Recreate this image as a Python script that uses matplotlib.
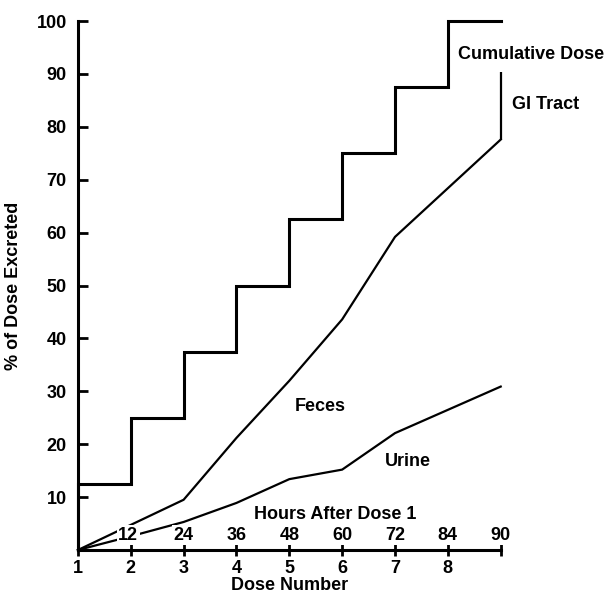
import matplotlib.pyplot as plt

plt.rcParams['font.family'] = ['Liberation Sans', 'DejaVu Sans']
plt.rcParams['font.weight'] = 'bold'

# cumulative dose given (step after each dose)
dose_edges = [1, 1, 2, 3, 4, 5, 6, 7, 8, 9]
cum_dose = [0, 12.5, 25, 37.5, 50, 62.5, 75, 87.5, 100, 100]

feces_x = [1, 3, 4, 5, 6, 7, 8, 9]
feces_y = [0, 9.5, 21.2, 32.0, 43.6, 59.2, 68.4, 77.6]

urine_x = [1, 2, 3, 4, 5, 6, 7, 8, 9]
urine_y = [0, 2.6, 5.3, 8.9, 13.4, 15.2, 22.1, 26.5, 30.9]

gi_x = 9
gi_range = (77.6, 90.3)

dose_ticks = [1, 2, 3, 4, 5, 6, 7, 8]
hour_pos = [2, 3, 4, 5, 6, 7, 8, 9]
hour_labels = ['12', '24', '36', '48', '60', '72', '84', '90']
y_ticks = [10, 20, 30, 40, 50, 60, 70, 80, 90, 100]

fs = 13

fig = plt.figure(figsize=(6.04, 5.95), dpi=100)
ax = fig.add_axes([0.129, 0.0756, 0.700, 0.889])
ax.set(xlim=(1, 9), ylim=(0, 100))

lw_curve = 1.6
ax.step(dose_edges, cum_dose, where='post', color='black', lw=2.2,
        clip_on=False, solid_joinstyle='miter')
ax.plot(feces_x, feces_y, color='black', lw=lw_curve, clip_on=False)
ax.plot(urine_x, urine_y, color='black', lw=lw_curve, clip_on=False)
ax.vlines(gi_x, *gi_range, color='black', lw=lw_curve, clip_on=False)

for side in ('top', 'right'):
    ax.spines[side].set_visible(False)
for side in ('left', 'bottom'):
    ax.spines[side].set_linewidth(2.2)

ax.set_yticks(y_ticks)
ax.set_xticks(dose_ticks + [9])
ax.set_xticklabels([str(d) for d in dose_ticks] + [''])
ax.tick_params(axis='y', direction='in', length=7, width=2, labelsize=fs,
               pad=8)
ax.tick_params(axis='x', direction='inout', length=9, width=2, labelsize=fs,
               pad=3)

ax.set_xlabel('Dose Number', fontsize=fs, fontweight='bold', labelpad=0)
ax.set_ylabel('% of Dose Excreted', fontsize=fs, fontweight='bold')
ax.yaxis.set_label_coords(-0.132, 0.5)

for pos, lab in zip(hour_pos, hour_labels):
    ax.text(pos - 0.05 if pos == 2 else pos, 2.8, lab, ha='center',
            va='center', fontsize=fs, fontweight='bold', zorder=5,
            bbox=dict(facecolor='white', edgecolor='none', pad=1))
ax.text(5.87, 6.8, 'Hours After Dose 1', ha='center', va='center',
        fontsize=fs, fontweight='bold')

ax.text(8.2, 93.6, 'Cumulative Dose', ha='left', va='center', fontsize=fs,
        fontweight='bold', clip_on=False)
ax.text(9.22, 84.3, 'GI Tract', ha='left', va='center', fontsize=fs,
        fontweight='bold', clip_on=False)
ax.text(5.11, 27.2, 'Feces', ha='left', va='center', fontsize=fs,
        fontweight='bold')
ax.text(6.81, 16.8, 'Urine', ha='left', va='center', fontsize=fs,
        fontweight='bold')

fig.savefig('out.png', dpi=100)
